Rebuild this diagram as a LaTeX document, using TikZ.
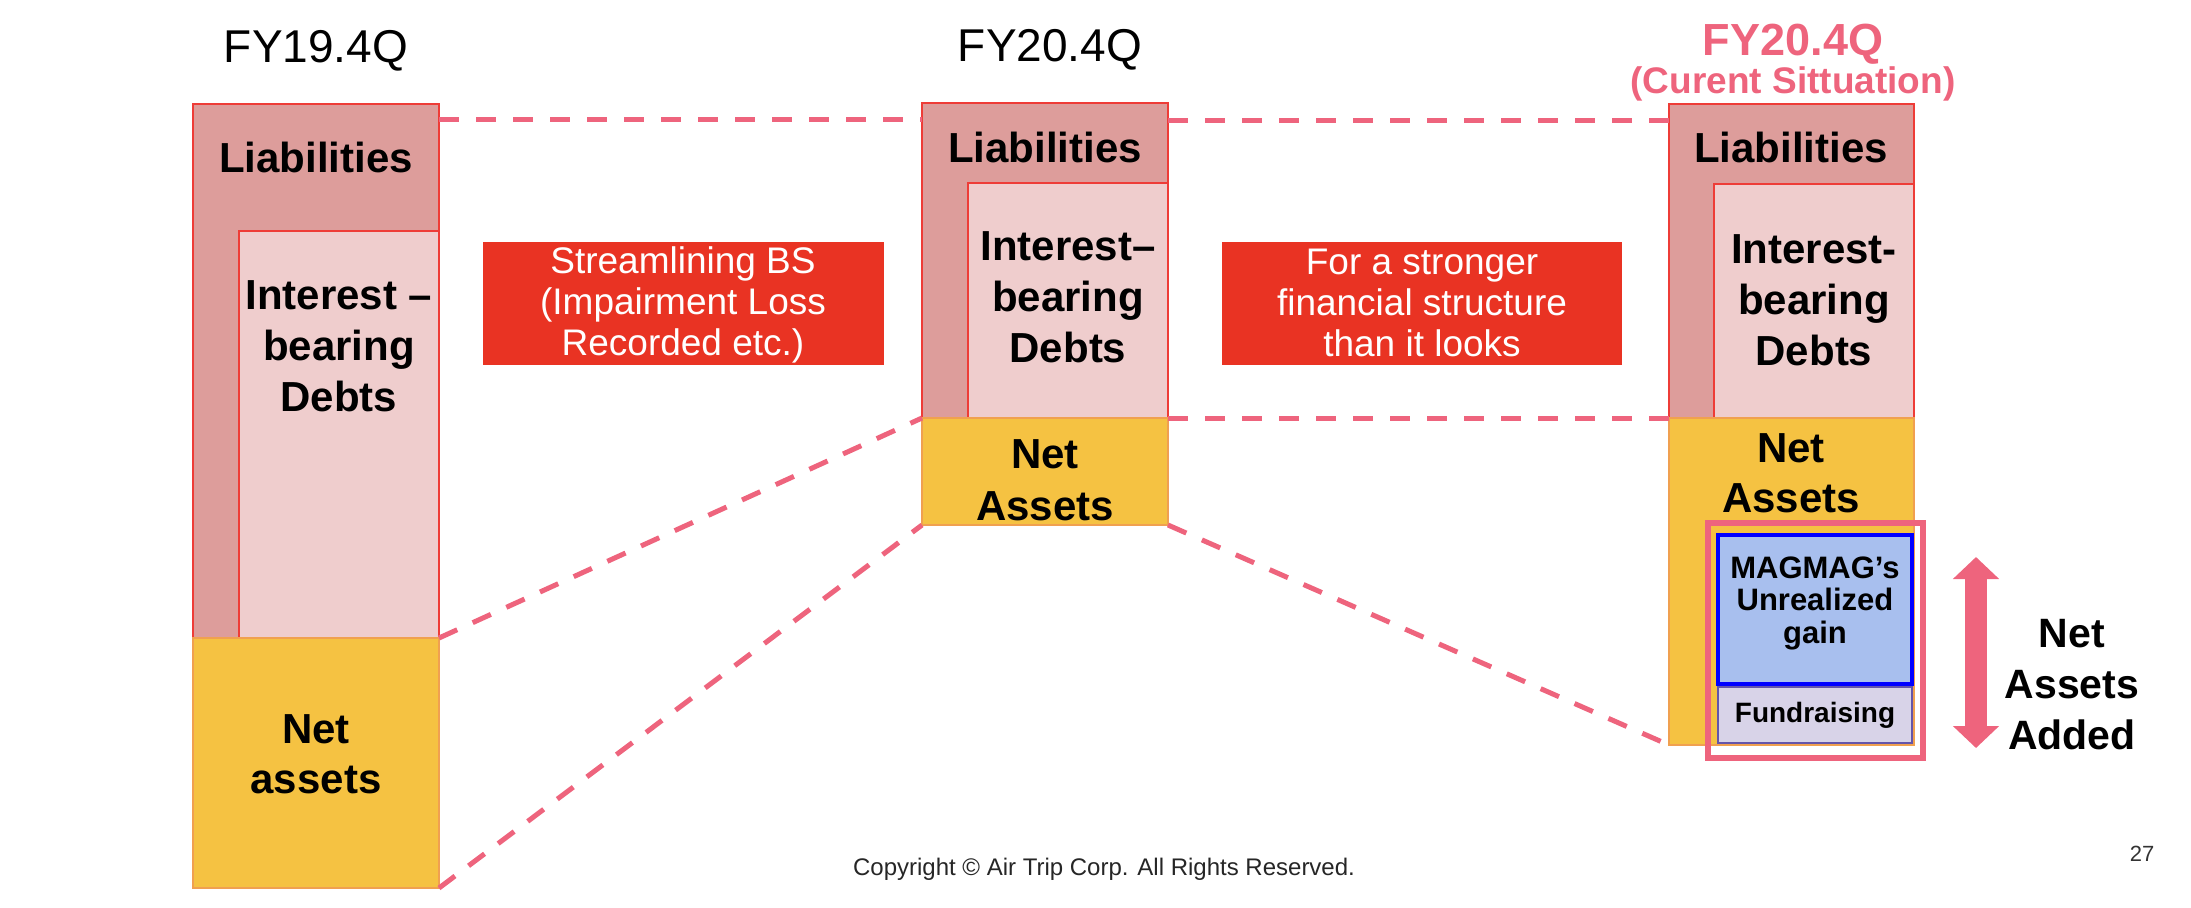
\documentclass[tikz,border=0pt]{standalone}
\usepackage{fontspec}
\setmainfont{Liberation Sans}
\usetikzlibrary{arrows.meta}
\definecolor{liab}{RGB}{221,157,155}
\definecolor{ibd}{RGB}{239,205,205}
\definecolor{bordred}{RGB}{238,60,55}
\definecolor{netyel}{RGB}{245,194,66}
\definecolor{netbord}{RGB}{240,160,80}
\definecolor{boxred}{RGB}{233,51,35}
\definecolor{dashpink}{RGB}{238,100,125}
\definecolor{gainblue}{RGB}{168,191,238}
\definecolor{fundlav}{RGB}{216,211,232}
\definecolor{fundbord}{RGB}{100,85,170}
\begin{document}
\begin{tikzpicture}[x=0.5pt,y=-0.5pt,
  box/.style={anchor=north west, inner sep=0pt, outer sep=0pt},
  liabbox/.style={box, fill=liab, draw=bordred, line width=1pt},
  ibdbox/.style={box, fill=ibd, draw=bordred, line width=1pt},
  netbox/.style={box, fill=netyel, draw=netbord, line width=1pt},
  redbox/.style={box, fill=boxred},
  lbl/.style={anchor=base, align=center, inner sep=0pt, font=\bfseries\fontsize{21}{25.5}\selectfont},
  wlbl/.style={anchor=base, align=center, inner sep=0pt, text=white, font=\fontsize{18.5}{20.5}\selectfont},
  ttl/.style={anchor=base, inner sep=0pt, font=\fontsize{23}{27}\selectfont},
  link/.style={draw=dashpink, line width=2.5pt, dash pattern=on 10pt off 8.5pt}]
\useasboundingbox (0,0) rectangle (2191,907);
% column 1
\node[liabbox, minimum width=123pt, minimum height=267pt] (liab1) at (193,104) {};
\node[ibdbox, minimum width=100pt, minimum height=203.5pt] (ibd1) at (239,231) {};
\node[netbox, minimum width=123pt, minimum height=125pt] (net1) at (193,638) {};
% column 2
\node[liabbox, minimum width=123pt, minimum height=157.5pt] (liab2) at (922,103) {};
\node[ibdbox, minimum width=100pt, minimum height=117.5pt] (ibd2) at (968,183) {};
\node[netbox, minimum width=123pt, minimum height=53.5pt] (net2) at (922,418) {};
% column 3
\node[liabbox, minimum width=122.5pt, minimum height=157pt] (liab3) at (1669,104) {};
\node[ibdbox, minimum width=100pt, minimum height=117pt] (ibd3) at (1714,184) {};
\node[netbox, minimum width=122.5pt, minimum height=163.5pt] (net3) at (1669,418) {};
\node[box, draw=dashpink, line width=2.7pt, minimum width=107.5pt, minimum height=117.5pt] (added) at (1708,523) {};
\node[box, fill=gainblue, draw=blue, line width=2pt, minimum width=97pt, minimum height=74.5pt] (gain) at (1718,535) {};
\node[box, fill=fundlav, draw=fundbord, line width=1.4pt, minimum width=97pt, minimum height=28pt] (fund) at (1718,687) {};
% red boxes
\node[redbox, minimum width=200.5pt, minimum height=61.5pt] (rb1) at (483,242) {};
\node[redbox, minimum width=200pt, minimum height=61.5pt] (rb2) at (1222,242) {};
% titles
\node[ttl] (t1) at (316,62) {FY19.4Q};
\node[ttl] (t2) at (1050,61) {FY20.4Q};
\node[anchor=base, inner sep=0pt, text=dashpink, font=\bfseries\fontsize{22.5}{26}\selectfont] (t3) at (1793,55) {FY20.4Q};
\node[anchor=base, inner sep=0pt, text=dashpink, font=\bfseries\fontsize{18.5}{22}\selectfont] (t3b) at (1793,93) {(Curent Sittuation)};
% labels (base anchor = baseline of last line)
\node[lbl] (l1) at (316,172) {Liabilities};
\node[lbl] (l2) at (1045,162) {Liabilities};
\node[lbl] (l3) at (1791,162) {Liabilities};
\node[lbl] (i1) at (339,411) {Interest –\\bearing\\Debts};
\node[lbl] (i2) at (1068,362) {Interest–\\bearing\\Debts};
\node[lbl] (i3) at (1814,365) {Interest-\\bearing\\Debts};
\node[lbl, font=\bfseries\fontsize{21}{25}\selectfont] (n1) at (316,793) {Net\\assets};
\node[lbl, font=\bfseries\fontsize{21}{26}\selectfont] (n2) at (1045,520) {Net\\Assets};
\node[lbl, font=\bfseries\fontsize{21}{25}\selectfont] (n3) at (1791,512) {Net\\Assets};
\node[wlbl] (w1) at (683,355) {Streamlining BS\\(Impairment Loss\\Recorded etc.)};
\node[wlbl] (w2) at (1422,356) {For a stronger\\financial structure\\than it looks};
\node[anchor=base, align=center, inner sep=0pt, font=\bfseries\fontsize{15.5}{16.25}\selectfont] (g1) at (1815,643) {MAGMAG’s\\Unrealized\\gain};
\node[anchor=base, inner sep=0pt, font=\bfseries\fontsize{14}{16}\selectfont] (f1) at (1815,722) {Fundraising};
\node[anchor=base, align=center, inner sep=0pt, font=\bfseries\fontsize{20.5}{25.5}\selectfont] (a1) at (2072,749) {Net\\Assets\\Added};
\node[anchor=base, inner sep=0pt, text=black!80, font=\fontsize{11}{13}\selectfont] (pg) at (2142,861) {27};
\node[anchor=base, inner sep=0pt, text=black!85, font=\fontsize{12}{14}\selectfont] (cp) at (1104,875) {Copyright © Air Trip Corp. All Rights Reserved.};
% dashed connectors
\coordinate (d1a) at (439,119); \coordinate (d1b) at (922,119);
\coordinate (d2a) at (1168,120); \coordinate (d2b) at (1669,120);
\draw[link] (d1a) -- (d1b);
\draw[link] (d2a) -- (d2b);
\draw[link] (net1.north east) -- (net2.north west);
\draw[link] (net1.south east) -- (net2.south west);
\draw[link] (net2.north east) -- (net3.north west);
\draw[link] (net2.south east) -- (net3.south west);
% double arrow
\coordinate (ar1) at (1976,557); \coordinate (ar2) at (1976,748);
\draw[dashpink, line width=11pt, {Triangle[width=22.5pt,length=11pt]}-{Triangle[width=22.5pt,length=11pt]}] (ar1) -- (ar2);
\end{tikzpicture}
\end{document}
